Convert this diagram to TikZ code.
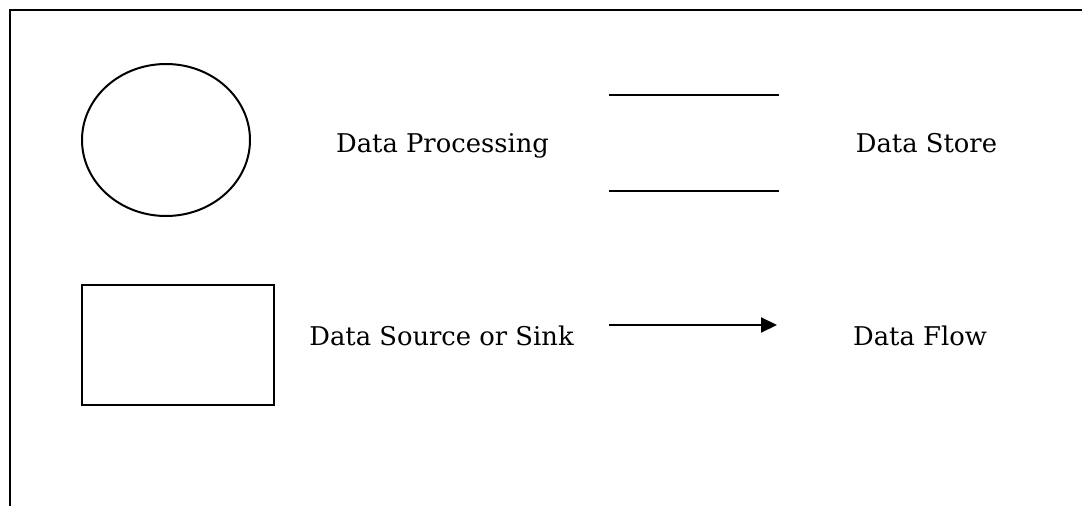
\documentclass[tikz,border=0pt]{standalone}
\usepackage{fontspec}
\setmainfont{DejaVu Serif}
\usetikzlibrary{shapes.geometric,arrows.meta}
\begin{document}
\begin{tikzpicture}[x=1pt,y=-1pt,
  frameline/.style={line width=2.6pt,black},
  shapeline/.style={line width=2pt,black},
  label/.style={font=\fontsize{25.8}{30}\selectfont,inner sep=0pt,anchor=base}]
\useasboundingbox (0,0) rectangle (1082,506);
% frame
\coordinate (ftr) at (1082,10);
\coordinate (ftl) at (10,10);
\coordinate (fbl) at (10,506);
\draw[frameline] (ftr) -- (ftl) -- (fbl);
% data processing
\node[shapeline,draw,ellipse,minimum width=168,minimum height=152,inner sep=0pt] (proc) at (166,140) {};
\node[label] (proct) at (442.5,152) {Data Processing};
% data store
\coordinate (s1a) at (609,95);
\coordinate (s1b) at (779,95);
\coordinate (s2a) at (609,191);
\coordinate (s2b) at (779,191);
\draw[shapeline] (s1a) -- (s1b);
\draw[shapeline] (s2a) -- (s2b);
\node[label] (storet) at (926.5,152) {Data Store};
% source or sink
\node[shapeline,draw,rectangle,minimum width=192,minimum height=120,inner sep=0pt] (sink) at (178,345) {};
\node[label] (sinkt) at (441.5,345) {Data Source or Sink};
% data flow
\coordinate (fa) at (609,325);
\coordinate (fb) at (777,325);
\draw[shapeline,-{Triangle[length=16pt,width=15pt]}] (fa) -- (fb);
\node[label] (flowt) at (920,345) {Data Flow};
\end{tikzpicture}
\end{document}
